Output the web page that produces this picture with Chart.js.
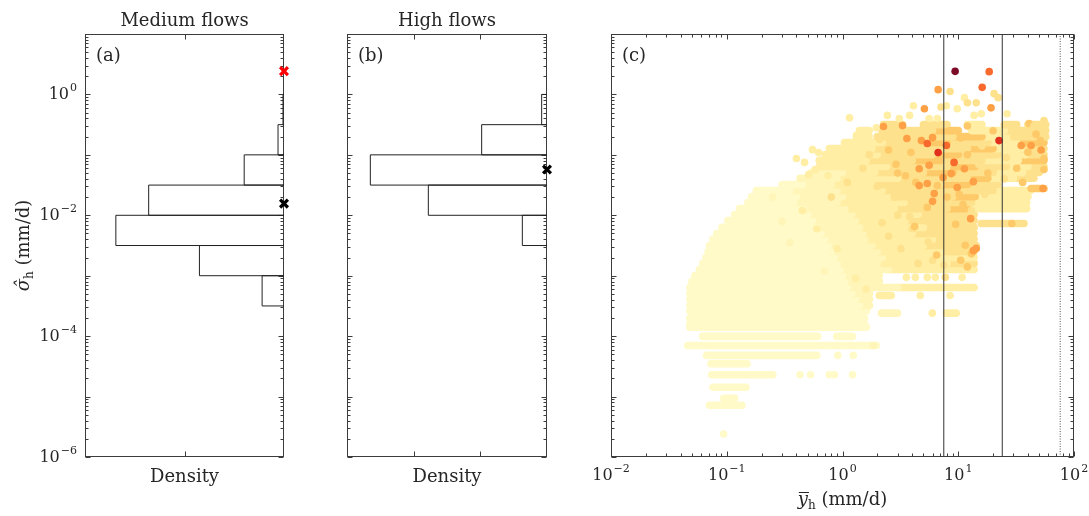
<!DOCTYPE html>
<html>
<head>
<meta charset="utf-8">
<script src="https://cdn.jsdelivr.net/npm/chart.js@4.4.0/dist/chart.umd.min.js"></script>
<style>
  body { margin: 0; background: #fff; }
  #wrap { position: relative; width: 1089px; height: 516px; }
  canvas { position: absolute; top: 0; }
</style>
</head>
<body>
<div id="wrap">
  <canvas id="chartA" width="300" height="516" style="left:0px"></canvas>
  <canvas id="chartB" width="270" height="516" style="left:300px"></canvas>
  <canvas id="chartC" width="519" height="516" style="left:570px"></canvas>
</div>
<script>
// ---- data ----
// half-decade bins of sigma_h (mm/d), density in arbitrary units
const medEdges = [3.16e-4, 1e-3, 3.16e-3, 1e-2, 3.16e-2, 1e-1, 3.16e-1, 1];
const medDensity = [0.22, 0.85, 1.69, 1.36, 0.40, 0.06, 0.01];
const highEdges = [3.16e-3, 1e-2, 3.16e-2, 1e-1, 3.16e-1, 1];
const highDensity = [0.37, 1.78, 2.65, 0.98, 0.08];

// crosses drawn at the density=0 edge
const medMarkers = [[2.43, '#ff0000'], [0.0156, '#000000']];
const highMarkers = [[0.0574, '#000000']];

// vertical threshold lines in (c), ybar in mm/d
const thresholds = [7.5, 24];
const dottedThreshold = 76;

const yTickExp = [-6, -4, -2, 0];
const xTickExp = [-2, -1, 0, 1, 2];

// (c) dense streaks of points: [sigma, ybar from, ybar to, colour level]
const streaks = [
  [0.316, 2.26, 3.3, 3], [0.316, 5.0, 8.0, 3], [0.316, 12, 16, 2], [0.316, 25, 32, 3], [0.316, 40, 57, 3],
  [0.252, 1.4, 1.7, 2], [0.252, 2.2, 6, 3], [0.252, 6, 10, 4], [0.252, 13, 25, 2], [0.252, 25, 57, 3],
  [0.20, 1.32, 1.7, 2], [0.20, 2.0, 9, 3], [0.20, 9, 16, 4], [0.20, 16, 30, 2], [0.20, 30, 57, 3],
  [0.16, 1.04, 2.2, 2], [0.16, 2.2, 5, 3], [0.16, 5, 8, 4], [0.16, 8, 18, 3], [0.16, 18, 32, 2], [0.16, 32, 55, 4],
  [0.127, 0.77, 1.8, 2], [0.127, 1.8, 12, 3], [0.127, 12, 20, 4], [0.127, 20, 35, 2], [0.127, 35, 55, 3],
  [0.101, 0.71, 2.0, 2], [0.101, 2.0, 6, 3], [0.101, 6, 10, 4], [0.101, 10, 22, 3], [0.101, 22, 38, 2], [0.101, 38, 55, 3],
  [0.081, 0.63, 1.6, 2], [0.081, 1.6, 4, 3], [0.081, 4, 7, 4], [0.081, 7, 16, 3], [0.081, 16, 33, 2], [0.081, 33, 55, 4],
  [0.064, 0.63, 2.4, 2], [0.064, 2.4, 8, 3], [0.064, 8, 14, 4], [0.064, 14, 26, 3], [0.064, 26, 40, 2], [0.064, 40, 55, 3],
  [0.051, 0.54, 1.0, 1], [0.051, 1.0, 1.9, 2], [0.051, 1.9, 5, 3], [0.051, 5, 9, 4], [0.051, 9, 20, 3], [0.051, 20, 36, 2], [0.051, 36, 50, 3],
  [0.041, 0.43, 0.9, 1], [0.041, 0.9, 3, 2], [0.041, 3, 12, 3], [0.041, 12, 18, 4], [0.041, 18, 30, 2], [0.041, 30, 45, 3],
  [0.0323, 0.30, 0.45, 0], [0.0323, 0.45, 0.8, 1], [0.0323, 0.8, 1.8, 2], [0.0323, 1.8, 7, 3], [0.0323, 7, 12, 4], [0.0323, 12, 22, 3],
  [0.0277, 42.6, 55, 4],
  [0.0257, 0.18, 0.35, 0], [0.0257, 0.35, 0.9, 1], [0.0257, 0.9, 2.2, 2], [0.0257, 2.2, 20, 3], [0.0257, 20, 42, 2],
  [0.0204, 0.164, 0.4, 0], [0.0204, 0.4, 1.0, 1], [0.0204, 1.0, 2.6, 2], [0.0204, 2.6, 9, 3], [0.0204, 9, 14, 4], [0.0204, 14, 40, 2],
  [0.0163, 0.152, 0.38, 0], [0.0163, 0.38, 0.9, 1], [0.0163, 0.9, 3.4, 2], [0.0163, 3.4, 13, 3], [0.0163, 13, 39, 2],
  [0.0129, 0.129, 0.45, 0], [0.0129, 0.45, 1.1, 1], [0.0129, 1.1, 2.8, 2], [0.0129, 2.8, 8, 3], [0.0129, 8, 12, 4], [0.0129, 12, 39, 2],
  [0.0103, 0.117, 0.5, 0], [0.0103, 0.5, 1.2, 1], [0.0103, 1.2, 4.5, 2], [0.0103, 4.5, 13.7, 3],
  [0.0082, 0.102, 0.55, 0], [0.0082, 0.55, 1.3, 1], [0.0082, 1.3, 3.5, 2], [0.0082, 3.5, 13.7, 3],
  [0.0073, 15.8, 37, 3],
  [0.0063, 0.091, 0.6, 0], [0.0063, 0.6, 1.4, 1], [0.0063, 1.4, 5, 2], [0.0063, 5, 13.7, 3],
  [0.0050, 0.082, 0.65, 0], [0.0050, 0.65, 1.5, 1], [0.0050, 1.5, 4, 2], [0.0050, 4, 13.7, 3],
  [0.0040, 0.076, 0.7, 0], [0.0040, 0.7, 1.6, 1], [0.0040, 1.6, 6, 2], [0.0040, 6, 13.7, 3],
  [0.00317, 0.071, 0.75, 0], [0.00317, 0.75, 1.8, 1], [0.00317, 1.8, 5, 2], [0.00317, 5, 14.3, 3],
  [0.00252, 0.069, 0.8, 0], [0.00252, 0.8, 2.0, 1], [0.00252, 2.0, 7, 2], [0.00252, 7, 13.7, 3],
  [0.00201, 0.066, 0.85, 0], [0.00201, 0.85, 2.2, 1], [0.00201, 2.2, 13.7, 2],
  [0.0016, 0.062, 0.9, 0], [0.0016, 0.9, 2.0, 1], [0.0016, 2.0, 8, 2], [0.0016, 8, 13.7, 3],
  [0.00127, 0.058, 0.95, 0], [0.00127, 0.95, 2.5, 1], [0.00127, 2.5, 13.7, 2],
  [0.00101, 0.053, 1.0, 0], [0.00101, 1.0, 2.08, 1],
  [0.00081, 0.050, 1.05, 0], [0.00081, 1.05, 2.08, 1],
  [0.00064, 0.048, 1.1, 0], [0.00064, 1.1, 3, 1], [0.00064, 3, 13.7, 2],
  [0.00051, 0.048, 1.2, 0], [0.00051, 1.2, 1.71, 1],
  [0.00047, 2.08, 2.64, 2],
  [0.00041, 0.048, 1.3, 0], [0.00041, 1.3, 1.71, 1],
  [0.00032, 0.048, 1.4, 0], [0.00032, 1.4, 1.71, 1],
  [0.00026, 0.048, 1.61, 0],
  [0.00024, 2.17, 2.98, 1], [0.00024, 7.9, 9.6, 2],
  [0.00020, 0.048, 1.55, 0],
  [0.00016, 0.048, 1.55, 0],
  [0.00014, 0.048, 1.61, 0],
  [9.9e-5, 0.062, 0.61, 0], [9.9e-5, 0.89, 1.22, 0],
  [7.0e-5, 0.046, 1.96, 0],
  [4.8e-5, 0.067, 0.60, 0],
  [3.5e-5, 0.073, 0.15, 0],
  [2.3e-5, 0.074, 0.25, 0],
  [1.43e-5, 0.076, 0.146, 0],
  [9.4e-6, 0.094, 0.117, 0],
  [7.2e-6, 0.071, 0.135, 0]
];

// (c) single points: [ybar, sigma, colour level]
const dots = [
  [9.4, 2.41, 8], [18.5, 2.38, 6], [16.1, 1.31, 6], [6.7, 1.20, 5], [8.5, 1.12, 3],
  [20.4, 1.03, 3], [22.1, 0.885, 3], [11.3, 0.885, 2], [9.8, 0.58, 2], [12.0, 0.73, 3],
  [14.3, 0.73, 3], [19.2, 0.60, 5], [7.9, 0.65, 2], [7.1, 0.62, 3], [4.1, 0.65, 2],
  [5.1, 0.58, 5], [2.44, 0.45, 2], [3.1, 0.40, 2], [3.8, 0.45, 2], [5.6, 0.40, 2],
  [6.6, 0.40, 2], [13.7, 0.45, 2], [15.8, 0.48, 2], [26.4, 0.48, 2], [40.9, 0.33, 4],
  [55, 0.37, 3], [1.15, 0.41, 2], [1.32, 0.21, 2], [1.67, 0.21, 2], [1.96, 0.28, 2],
  [0.55, 0.122, 2], [0.62, 0.109, 2], [0.40, 0.087, 2], [0.47, 0.075, 2], [0.51, 0.047, 2],
  [0.58, 0.057, 2],
  [2.5, 0.12, 4], [3.2, 0.09, 3], [12, 0.10, 4], [15, 0.07, 3], [18, 0.05, 4],
  [25, 0.04, 3], [3.5, 0.045, 4], [8, 0.02, 4], [11, 0.015, 4], [13, 0.012, 3],
  [2.8, 0.02, 3], [7, 0.008, 3], [10, 0.005, 3], [4, 0.006, 3], [20, 0.25, 4],
  [30, 0.2, 3], [45, 0.3, 3], [40, 0.11, 4], [50, 0.06, 3], [36, 0.035, 4],
  [12, 0.3, 4], [3, 0.01, 3], [2, 0.03, 3], [1.5, 0.06, 3], [9, 0.0025, 3],
  [6, 0.0018, 3], [12, 0.0014, 4],
  [2.5, 0.0045, 3], [3.2, 0.0028, 3], [4.2, 0.0065, 4], [5.5, 0.0036, 3], [6.5, 0.0022, 4],
  [8.5, 0.0042, 3], [11.5, 0.0032, 4], [9.5, 0.0071, 4], [12.5, 0.0055, 3], [7.5, 0.0015, 3],
  [10.5, 0.0018, 4], [4.5, 0.0016, 3], [3.8, 0.0095, 3], [2.2, 0.0075, 3], [13, 0.0023, 4],
  [12.8, 0.0088, 5], [13.5, 0.0026, 5],
  [0.45, 0.012, 2], [0.6, 0.006, 2], [0.8, 0.02, 3], [0.35, 0.0035, 1], [0.9, 0.0028, 2],
  [0.7, 0.0012, 1], [1.3, 0.0009, 2], [1.6, 0.0006, 2], [0.3, 0.008, 1], [0.25, 0.02, 1],
  [1.1, 0.035, 3], [0.75, 0.045, 2], [1.7, 0.1, 3], [2.1, 0.18, 3], [1.2, 0.013, 2],
  [1.8, 0.004, 2],
  [3.9, 0.11, 4], [2.9, 0.07, 4], [10.5, 0.19, 4], [16, 0.14, 3], [26, 0.09, 3],
  [47, 0.22, 4], [52, 0.12, 5], [32, 0.06, 4], [8.3, 0.25, 4], [4.4, 0.24, 3],
  [13.5, 0.036, 5], [7.4, 0.042, 5], [10.2, 0.022, 4], [6.0, 0.017, 5], [3.0, 0.05, 4],
  [17, 0.022, 3],
  [3.3, 0.305, 5], [2.26, 0.294, 5], [3.6, 0.186, 5], [4.8, 0.172, 5], [6.0, 0.193, 5],
  [5.4, 0.154, 6], [7.9, 0.143, 6], [6.7, 0.109, 7], [22.5, 0.172, 7], [35, 0.143, 5],
  [42.6, 0.143, 5], [51, 0.172, 4], [5.6, 0.067, 5], [9.2, 0.075, 6], [11.3, 0.059, 5],
  [8.7, 0.049, 5], [4.6, 0.059, 5], [5.4, 0.0336, 5], [4.3, 0.035, 4], [9.8, 0.0288, 5],
  [6.2, 0.0229, 5], [55, 0.087, 4], [55, 0.057, 4], [54, 0.0277, 5], [14.3, 0.00283, 5],
  [29, 0.0073, 4], [4.6, 0.031, 5], [6.6, 0.031, 4], [5.4, 0.0135, 4],
  [3.56, 0.00094, 2], [4.26, 0.00094, 2], [5.4, 0.00094, 2], [6.34, 0.00094, 2],
  [7.73, 0.00094, 3], [10.8, 0.00094, 2], [4.7, 0.00047, 2], [8.5, 0.00047, 2],
  [5.97, 0.00024, 2],
  [1.85, 7.0e-5, 1], [0.91, 4.8e-5, 0], [1.24, 4.8e-5, 0], [0.43, 2.3e-5, 0],
  [0.53, 2.3e-5, 0], [0.77, 2.3e-5, 0], [0.85, 2.3e-5, 0], [1.22, 2.3e-5, 0],
  [0.094, 2.4e-6, 0]
];

// YlOrRd-like colour levels
const levelColors = ['#fffac8', '#fff5b8', '#ffeea4', '#fee18c', '#fec968', '#fda046', '#f7692c', '#e2301f', '#7d0b27'];

const serif = '"DejaVu Serif", "Liberation Serif", serif';
const axisColor = '#3c3c3c';

// ---- helpers ----
function logTicks(min, max) {
  const out = [];
  for (let e = Math.round(Math.log10(min)); e <= Math.round(Math.log10(max)); e++) {
    for (let m = 1; m <= 9; m++) {
      const v = m * Math.pow(10, e);
      if (v >= min * 0.999 && v <= max * 1.001) out.push({ v: v, major: m === 1 });
    }
  }
  return out;
}

function powLabel(ctx, exp, x, y, align) {
  const sup = (exp < 0 ? '\u2212' : '') + Math.abs(exp);
  ctx.font = '16px ' + serif;
  const wb = ctx.measureText('10').width;
  ctx.font = '11px ' + serif;
  const ws = ctx.measureText(sup).width;
  const w = wb + ws + 1;
  const x0 = align === 'right' ? x - w : x - w / 2;
  ctx.textAlign = 'left';
  ctx.textBaseline = 'alphabetic';
  ctx.font = '16px ' + serif;
  ctx.fillText('10', x0, y);
  ctx.font = '11px ' + serif;
  ctx.fillText(sup, x0 + wb + 1, y - 8);
}

function framePlugin(opt) {
  return {
    id: 'frame',
    beforeDatasetsDraw(chart) {
      const ctx = chart.ctx, a = chart.chartArea;
      const xs = chart.scales.x, ys = chart.scales.y;
      const L = Math.round(a.left) + 0.5, R = Math.round(a.right) - 0.5;
      const T = Math.round(a.top) + 0.5, B = Math.round(a.bottom) - 0.5;
      ctx.save();
      ctx.strokeStyle = axisColor;
      ctx.lineWidth = 1;
      ctx.beginPath();
      logTicks(1e-6, 10).forEach(t => {
        const y = Math.round(ys.getPixelForValue(t.v)) + 0.5;
        const len = t.major ? 5 : 3;
        ctx.moveTo(L, y); ctx.lineTo(L + len, y);
        ctx.moveTo(R, y); ctx.lineTo(R - len, y);
      });
      const xt = opt.xLog ? logTicks(0.01, 100) : opt.xTicks.map(v => ({ v: v, major: true }));
      xt.forEach(t => {
        const x = Math.round(xs.getPixelForValue(t.v)) + 0.5;
        const len = t.major ? 5 : 3;
        ctx.moveTo(x, B); ctx.lineTo(x, B - len);
        ctx.moveTo(x, T); ctx.lineTo(x, T + len);
      });
      ctx.stroke();
      ctx.strokeRect(L, T, R - L, B - T);

      ctx.fillStyle = '#262626';
      const cx = (a.left + a.right) / 2;
      ctx.textBaseline = 'alphabetic';
      if (opt.title) {
        ctx.font = '18px ' + serif;
        ctx.textAlign = 'center';
        ctx.fillText(opt.title, cx, 26);
      }
      ctx.font = '18px ' + serif;
      ctx.textAlign = 'left';
      ctx.fillText(opt.tag, a.left + 11, 61);

      if (opt.yLabels) {
        yTickExp.forEach(e => powLabel(ctx, e, a.left - 8, ys.getPixelForValue(Math.pow(10, e)) + 5, 'right'));
        // rotated sigma-hat label
        ctx.save();
        ctx.translate(29, (a.top + a.bottom) / 2);
        ctx.rotate(-Math.PI / 2);
        ctx.font = 'italic 18px ' + serif;
        const w1 = ctx.measureText('\u03c3\u0302').width;
        ctx.font = '18px ' + serif;
        const w3 = ctx.measureText(' (mm/d)').width;
        ctx.font = '12px ' + serif;
        const w2 = ctx.measureText('h').width;
        const x0 = -(w1 + w2 + w3) / 2;
        ctx.textAlign = 'left';
        ctx.font = 'italic 18px ' + serif;
        ctx.fillText('\u03c3\u0302', x0, 0);
        ctx.font = '12px ' + serif;
        ctx.fillText('h', x0 + w1, 4);
        ctx.font = '18px ' + serif;
        ctx.fillText(' (mm/d)', x0 + w1 + w2, 0);
        ctx.restore();
      }

      if (opt.xLog) {
        xTickExp.forEach(e => powLabel(ctx, e, xs.getPixelForValue(Math.pow(10, e)), 480, 'center'));
        ctx.font = 'italic 18px ' + serif;
        const wy = ctx.measureText('y').width;
        ctx.font = '12px ' + serif;
        const wh = ctx.measureText('h').width;
        ctx.font = '18px ' + serif;
        const wr = ctx.measureText(' (mm/d)').width;
        const x0 = cx - (wy + wh + wr) / 2;
        ctx.textAlign = 'left';
        ctx.font = 'italic 18px ' + serif;
        ctx.fillText('y', x0, 505);
        ctx.beginPath();
        ctx.strokeStyle = '#262626';
        ctx.moveTo(x0 + 1, 492.5); ctx.lineTo(x0 + wy + 1, 492.5);
        ctx.stroke();
        ctx.font = '12px ' + serif;
        ctx.fillText('h', x0 + wy, 509);
        ctx.font = '18px ' + serif;
        ctx.fillText(' (mm/d)', x0 + wy + wh, 505);
      } else {
        ctx.font = '18px ' + serif;
        ctx.textAlign = 'center';
        ctx.fillText('Density', cx, 482);
      }
      ctx.restore();
    }
  };
}

function histDatasets(edges, dens) {
  return dens.map((w, i) => ({
    data: [{ x: 0, y: edges[i] }, { x: w, y: edges[i] }, { x: w, y: edges[i + 1] }, { x: 0, y: edges[i + 1] }],
    showLine: true, borderColor: '#222', borderWidth: 1, pointRadius: 0, order: 2
  }));
}

function markerDatasets(list) {
  return list.map(m => ({
    data: [{ x: 0, y: m[0] }],
    pointStyle: 'crossRot', pointRadius: 5.5, borderWidth: 3.2,
    borderColor: m[1], backgroundColor: m[1], clip: false, order: 0
  }));
}

function panel(id, datasets, xScale, pad, frameOpt) {
  return new Chart(document.getElementById(id), {
    type: 'scatter',
    data: { datasets: datasets },
    options: {
      responsive: false,
      animation: false,
      events: [],
      devicePixelRatio: 1,
      layout: { padding: pad },
      scales: {
        x: Object.assign({ display: false }, xScale),
        y: { type: 'logarithmic', min: 1e-6, max: 10, display: false }
      },
      plugins: { legend: { display: false }, tooltip: { enabled: false } }
    },
    plugins: [framePlugin(frameOpt)]
  });
}

// (a) medium flows
panel('chartA',
  markerDatasets(medMarkers).concat(histDatasets(medEdges, medDensity)),
  { type: 'linear', reverse: true, min: 0, max: 2 },
  { left: 85, right: 16, top: 34, bottom: 59 },
  { title: 'Medium flows', tag: '(a)', xTicks: [1], yLabels: true });

// (b) high flows
panel('chartB',
  markerDatasets(highMarkers).concat(histDatasets(highEdges, highDensity)),
  { type: 'linear', reverse: true, min: 0, max: 3 },
  { left: 47, right: 23, top: 34, bottom: 59 },
  { title: 'High flows', tag: '(b)', xTicks: [1, 2] });

// (c) scatter
const cSets = [];
thresholds.forEach(t => cSets.push({
  data: [{ x: t, y: 1e-6 }, { x: t, y: 10 }],
  showLine: true, borderColor: '#333', borderWidth: 1, pointRadius: 0, order: 0
}));
cSets.push({
  data: [{ x: dottedThreshold, y: 1e-6 }, { x: dottedThreshold, y: 10 }],
  showLine: true, borderColor: '#555', borderWidth: 1, borderDash: [1, 1.5], pointRadius: 0, order: 0
});
cSets.push({
  data: dots.map(d => ({ x: d[0], y: d[1] })),
  pointRadius: 3.8, borderWidth: 0,
  backgroundColor: dots.map(d => levelColors[d[2]]),
  order: 1
});
streaks.forEach(s => cSets.push({
  data: [{ x: s[1], y: s[0] }, { x: s[2], y: s[0] }],
  showLine: true, borderColor: levelColors[s[3]], borderWidth: 7.6,
  borderCapStyle: 'round', pointRadius: 0, order: 2
}));

panel('chartC', cSets,
  { type: 'logarithmic', min: 0.01, max: 100 },
  { left: 41, right: 15, top: 34, bottom: 59 },
  { tag: '(c)', xLog: true });
</script>
</body>
</html>
